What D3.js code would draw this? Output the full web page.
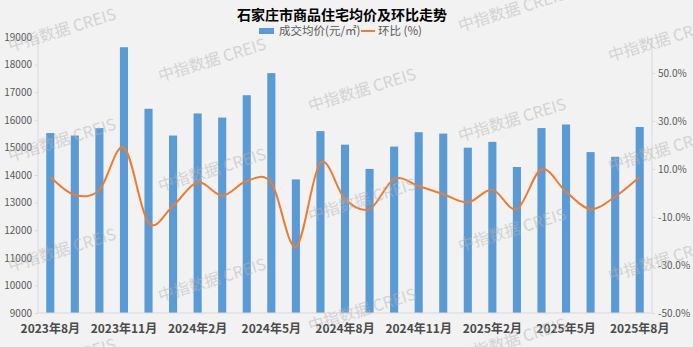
<!DOCTYPE html>
<html>
<head>
<meta charset="utf-8">
<script src="https://cdn.jsdelivr.net/npm/d3@7"></script>
<style>
  body { margin: 0; background: #f2f2f2; }
  svg { display: block; font-family: "Noto Sans CJK SC", "Noto Sans", sans-serif; }
</style>
</head>
<body>
<svg width="693" height="347" viewBox="0 0 693 347"></svg>
<script>
// data
const months = ["2023年8月", "2023年9月", "2023年10月", "2023年11月", "2023年12月",
    "2024年1月", "2024年2月", "2024年3月", "2024年4月", "2024年5月", "2024年6月",
    "2024年7月", "2024年8月", "2024年9月", "2024年10月", "2024年11月", "2024年12月",
    "2025年1月", "2025年2月", "2025年3月", "2025年4月", "2025年5月", "2025年6月",
    "2025年7月", "2025年8月"];
const prices = [15520, 15430, 15700, 18630, 16400, 15430, 16230, 16080, 16890, 17690,
    13840, 15590, 15100, 14220, 15030, 15550, 15500, 14990, 15200, 14290,
    15700, 15830, 14830, 14660, 15740];
const momPct = [6.8, -0.8, 1.3, 18.9, -12.4, -5.3, 4.5, -1.1, 5.0, 4.3,
    -22.4, 12.6, -2.5, -6.7, 5.8, 2.9, -0.5, -3.9, 1.3, -6.7,
    9.9, 0.5, -6.7, -1.5, 6.8];
const leftTicks = [9000, 10000, 11000, 12000, 13000, 14000, 15000, 16000, 17000, 18000, 19000];
const rightTicks = [-50, -30, -10, 10, 30, 50];
const xLabels = ["2023年8月", "2023年11月", "2024年2月", "2024年5月", "2024年8月",
    "2024年11月", "2025年2月", "2025年5月", "2025年8月"];

const title = "石家庄市商品住宅均价及环比走势";
const barName = "成交均价(元/㎡)";
const lineName = "环比 (%)";

const svg = d3.select("svg");
const plotL = 38, plotR = 652, plotT = 37, plotB = 313;
const axisGrey = "#d9d9d9", textGrey = "#595959";

const x = d3.scaleBand().domain(months).range([plotL, plotR])
    .paddingInner(0.67).paddingOuter(0.335);
const yL = d3.scaleLinear().domain([9000, 19000]).range([plotB, plotT]);
const yR = d3.scaleLinear().domain([-50, 65]).range([plotB, plotT]);

// bars
svg.append("g").selectAll("rect")
    .data(prices)
    .join("rect")
    .attr("x", (d, i) => x(months[i]))
    .attr("width", x.bandwidth())
    .attr("y", d => yL(d))
    .attr("height", d => plotB - yL(d))
    .attr("fill", "#5b9bd5");

// axes
const leftAxis = svg.append("g")
    .attr("transform", `translate(${plotL},0)`)
    .call(d3.axisLeft(yL).tickValues(leftTicks).tickSize(3).tickPadding(3).tickFormat(d3.format("d")));
const rightAxis = svg.append("g")
    .attr("transform", `translate(${plotR},0)`)
    .call(d3.axisRight(yR).tickValues(rightTicks).tickSize(3).tickPadding(3).tickFormat(d => d.toFixed(1) + "%"));

[leftAxis, rightAxis].forEach(g => {
    g.select(".domain").attr("stroke", axisGrey).attr("d", `M0,${plotT}V${plotB}`);
    g.selectAll(".tick line").attr("stroke", axisGrey);
    g.selectAll(".tick text").attr("fill", textGrey).attr("font-size", 10)
        .attr("font-family", "\"Noto Sans CJK SC\", sans-serif");
});

svg.append("line")
    .attr("x1", plotL).attr("x2", plotR)
    .attr("y1", plotB).attr("y2", plotB)
    .attr("stroke", axisGrey);

svg.append("g").selectAll("text")
    .data(xLabels)
    .join("text")
    .attr("x", d => x(d) + x.bandwidth() / 2)
    .attr("y", 333)
    .attr("text-anchor", "middle")
    .attr("font-size", 12)
    .attr("font-weight", "bold")
    .attr("fill", "#4a4a4a")
    .text(d => d);

// smoothed month-on-month line
const line = d3.line()
    .x((d, i) => x(months[i]) + x.bandwidth() / 2)
    .y(d => yR(d))
    .curve(d3.curveCardinal.tension(0));

svg.append("path")
    .datum(momPct)
    .attr("d", line)
    .attr("fill", "none")
    .attr("stroke", "#ed7d31")
    .attr("stroke-width", 2);

// title and legend
svg.append("text")
    .attr("x", 342).attr("y", 20)
    .attr("text-anchor", "middle")
    .attr("font-size", 14)
    .attr("font-weight", "bold")
    .attr("fill", "#000")
    .text(title);

const legend = svg.append("g").attr("font-size", 11.5).attr("fill", textGrey);
legend.append("rect").attr("x", 259).attr("y", 28).attr("width", 15).attr("height", 6).attr("fill", "#5b9bd5");
legend.append("text").attr("x", 279).attr("y", 35).text(barName);
legend.append("line").attr("x1", 361).attr("x2", 375).attr("y1", 31).attr("y2", 31)
    .attr("stroke", "#ed7d31").attr("stroke-width", 2);
legend.append("text").attr("x", 378).attr("y", 35).text(lineName);

// watermark
const marks = [];
for (let i = 0; i < 5; i++) {
    const y0 = (30 + 30 * i) % 110;
    for (let j = 0; j < 4; j++) {
        const y = y0 + 110 * j;
        if (y < 365) marks.push([62 + 150 * i, y]);
    }
}
svg.append("g").selectAll("text")
    .data(marks)
    .join("text")
    .attr("transform", d => `translate(${d[0]},${d[1]}) rotate(-17)`)
    .attr("text-anchor", "middle")
    .attr("dy", "0.35em")
    .attr("font-size", 16)
    .attr("fill", "#b5b5b5")
    .attr("opacity", 0.5)
    .text("中指数据  CREIS");
</script>
</body>
</html>
